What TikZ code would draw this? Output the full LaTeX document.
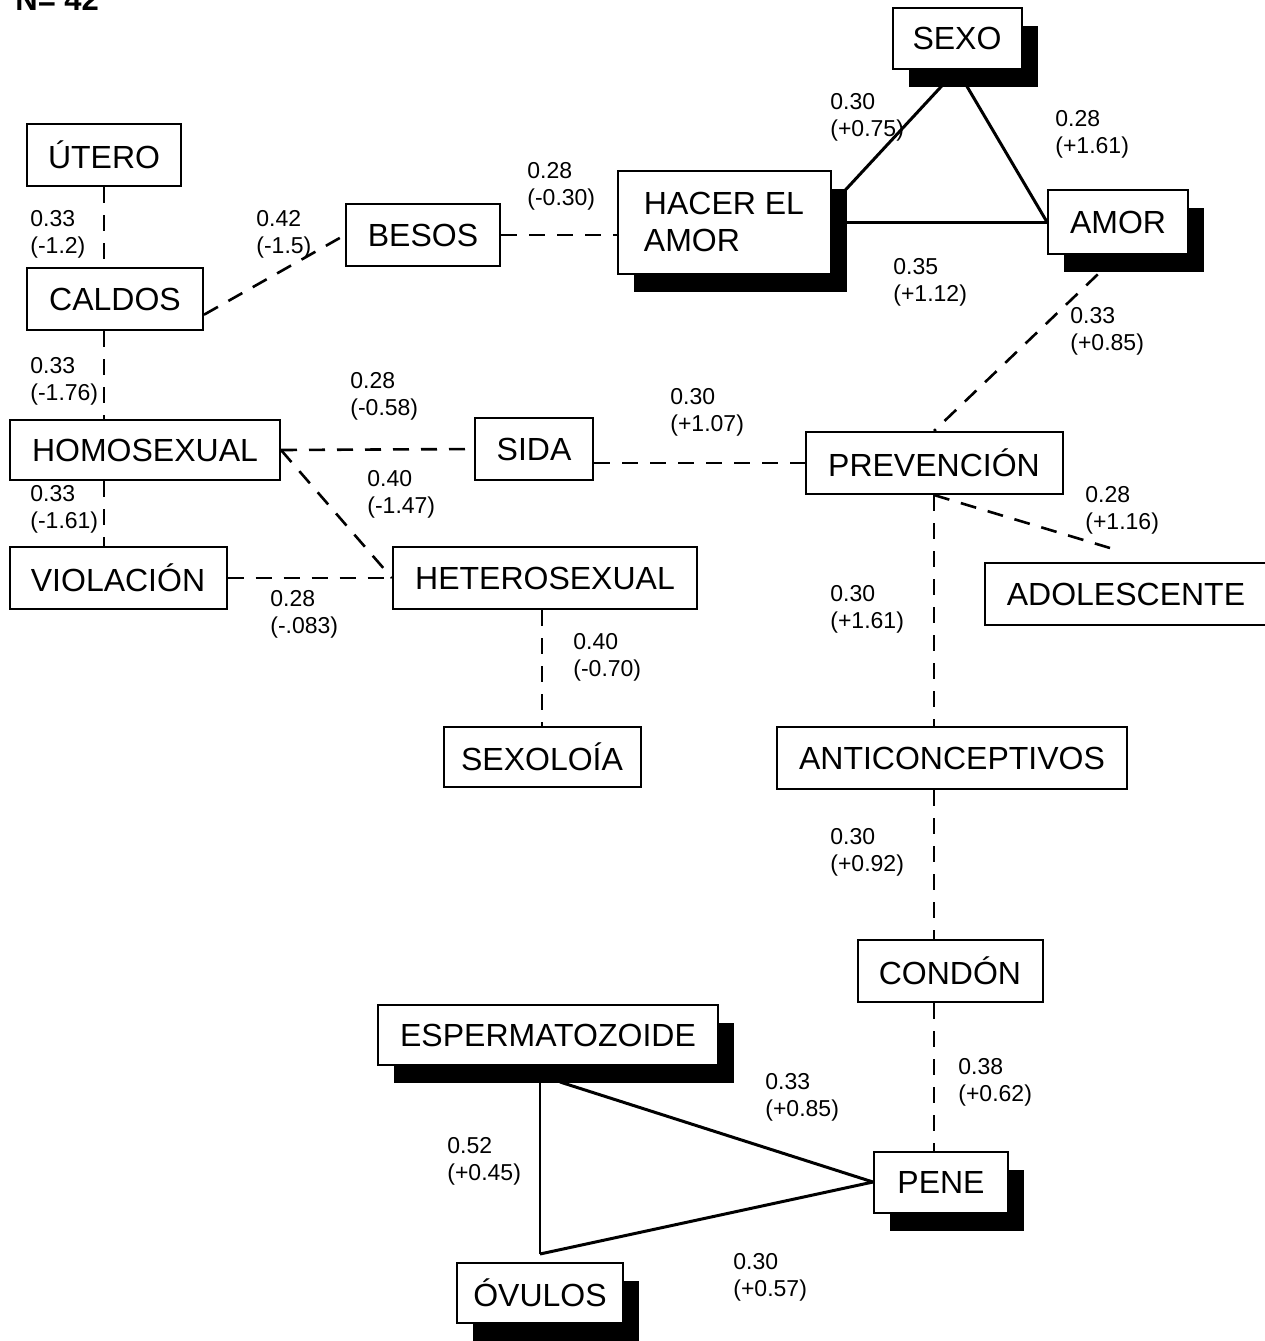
\documentclass[tikz,border=0pt]{standalone}
\usepackage{fontspec}
\setmainfont{Liberation Sans}
\usetikzlibrary{shadows}
\begin{document}
\begin{tikzpicture}[x=0.5pt,y=-0.5pt,
  box/.style={draw,line width=1pt,fill=white,inner xsep=8pt,minimum height=31pt,font=\fontsize{16}{18.5}\selectfont},
  sbox/.style={box,drop shadow={shadow xshift=8pt,shadow yshift=-9pt,fill=black,opacity=1}},
  lbl/.style={anchor=north west,inner sep=0pt,align=left,font=\fontsize{11.5}{13.5}\selectfont},
  dline/.style={line width=1.3pt,dash pattern=on 8pt off 6pt},
  sline/.style={line width=1.5pt}]
\useasboundingbox (0,0) rectangle (1265,1341);

\node[anchor=base west,inner sep=0pt,font=\fontsize{15.5}{18}\selectfont\bfseries] (ntot) at (15,10) {N= 42};

\node[box,minimum width=77pt] (utero) at (104,155) {ÚTERO};
\node[box,minimum width=88pt] (caldos) at (115,299) {CALDOS};
\node[box,minimum width=77pt] (besos) at (423,235) {BESOS};
\node[sbox,minimum width=106.5pt,minimum height=51.5pt,align=left] (hacer) at (724,222) {HACER EL\\AMOR};
\node[sbox,minimum width=64.5pt,minimum height=30.5pt] (sexo) at (957,38) {SEXO};
\node[sbox,minimum width=70pt,minimum height=32pt] (amor) at (1118,222) {AMOR};
\node[box,minimum width=135pt,minimum height=30pt] (homo) at (145,450) {HOMOSEXUAL};
\node[box,minimum width=59pt] (sida) at (534,449) {SIDA};
\node[box,minimum width=128.5pt] (prev) at (934,463) {PREVENCIÓN};
\node[box,minimum width=108.5pt] (viol) at (118,578) {VIOLACIÓN};
\node[box,minimum width=152pt] (hetero) at (545,578) {HETEROSEXUAL};
\node[box,minimum width=141pt] (ado) at (1126,594) {ADOLESCENTE};
\node[box,minimum width=98.5pt,minimum height=30pt] (sexologia) at (542,757) {SEXOLOÍA};
\node[box,minimum width=175pt] (anti) at (952,758) {ANTICONCEPTIVOS};
\node[box,minimum width=92.5pt] (condon) at (950,971) {CONDÓN};
\node[sbox,minimum width=170pt,minimum height=30pt] (esp) at (548,1035) {ESPERMATOZOIDE};
\node[sbox,minimum width=67pt,minimum height=30.5pt] (pene) at (941,1182) {PENE};
\node[sbox,minimum width=82.5pt,minimum height=30pt] (ovulos) at (540,1293) {ÓVULOS};

\coordinate (apex) at ([yshift=4pt]ovulos.north);
\coordinate (espfoot) at ([xshift=6pt,yshift=-8pt]esp.south);

\draw[dline] (utero.south) -- (utero.south |- caldos.north);
\draw[dline] (utero.south |- caldos.south) -- (utero.south |- homo.north);
\draw[dline] (utero.south |- homo.south) -- (utero.south |- viol.north);
\draw[dline] (caldos.-10) -- (besos.west);
\draw[dline] (besos.east) -- (besos.east -| hacer.west);
\draw[dline] (homo.east) -- (sida.west);
\draw[dline] (homo.east) -- (hetero.west);
\draw[dline] (viol.east) -- (hetero.west);
\draw[dline] (sida.east |- prev.west) -- (prev.west);
\draw[dline] (amor.south) -- (prev.north);
\draw[dline] (prev.south) -- ([xshift=-8pt,yshift=7pt]ado.north);
\draw[dline] (sexologia.north |- hetero.south) -- (sexologia.north);
\draw[dline] (prev.south) -- (prev.south |- anti.north);
\draw[dline] (prev.south |- anti.south) -- (prev.south |- condon.north);
\draw[dline] (prev.south |- condon.south) -- (prev.south |- pene.north);

\draw[sline] (hacer.9) -- (sexo.south);
\draw[sline] (sexo.south) -- (amor.west);
\draw[sline] (hacer.east) -- (amor.west);
\draw[sline] (espfoot) -- (pene.west);
\draw[sline] (apex) -- (pene.west);
\draw[line width=0.8pt] (apex |- espfoot) -- (apex);

\node[lbl] (l1) at (30,210) {0.33\\(-1.2)};
\node[lbl] (l2) at (256,210) {0.42\\(-1.5)};
\node[lbl] (l3) at (527,162) {0.28\\(-0.30)};
\node[lbl] (l4) at (830,93) {0.30\\(+0.75)};
\node[lbl] (l5) at (1055,110) {0.28\\(+1.61)};
\node[lbl] (l6) at (893,258) {0.35\\(+1.12)};
\node[lbl] (l7) at (1070,307) {0.33\\(+0.85)};
\node[lbl] (l8) at (30,357) {0.33\\(-1.76)};
\node[lbl] (l9) at (350,372) {0.28\\(-0.58)};
\node[lbl] (l10) at (670,388) {0.30\\(+1.07)};
\node[lbl] (l11) at (30,485) {0.33\\(-1.61)};
\node[lbl] (l12) at (367,470) {0.40\\(-1.47)};
\node[lbl] (l13) at (1085,486) {0.28\\(+1.16)};
\node[lbl] (l14) at (270,590) {0.28\\(-.083)};
\node[lbl] (l15) at (830,585) {0.30\\(+1.61)};
\node[lbl] (l16) at (573,633) {0.40\\(-0.70)};
\node[lbl] (l17) at (830,828) {0.30\\(+0.92)};
\node[lbl] (l18) at (958,1058) {0.38\\(+0.62)};
\node[lbl] (l19) at (765,1073) {0.33\\(+0.85)};
\node[lbl] (l20) at (447,1137) {0.52\\(+0.45)};
\node[lbl] (l21) at (733,1253) {0.30\\(+0.57)};
\end{tikzpicture}
\end{document}
